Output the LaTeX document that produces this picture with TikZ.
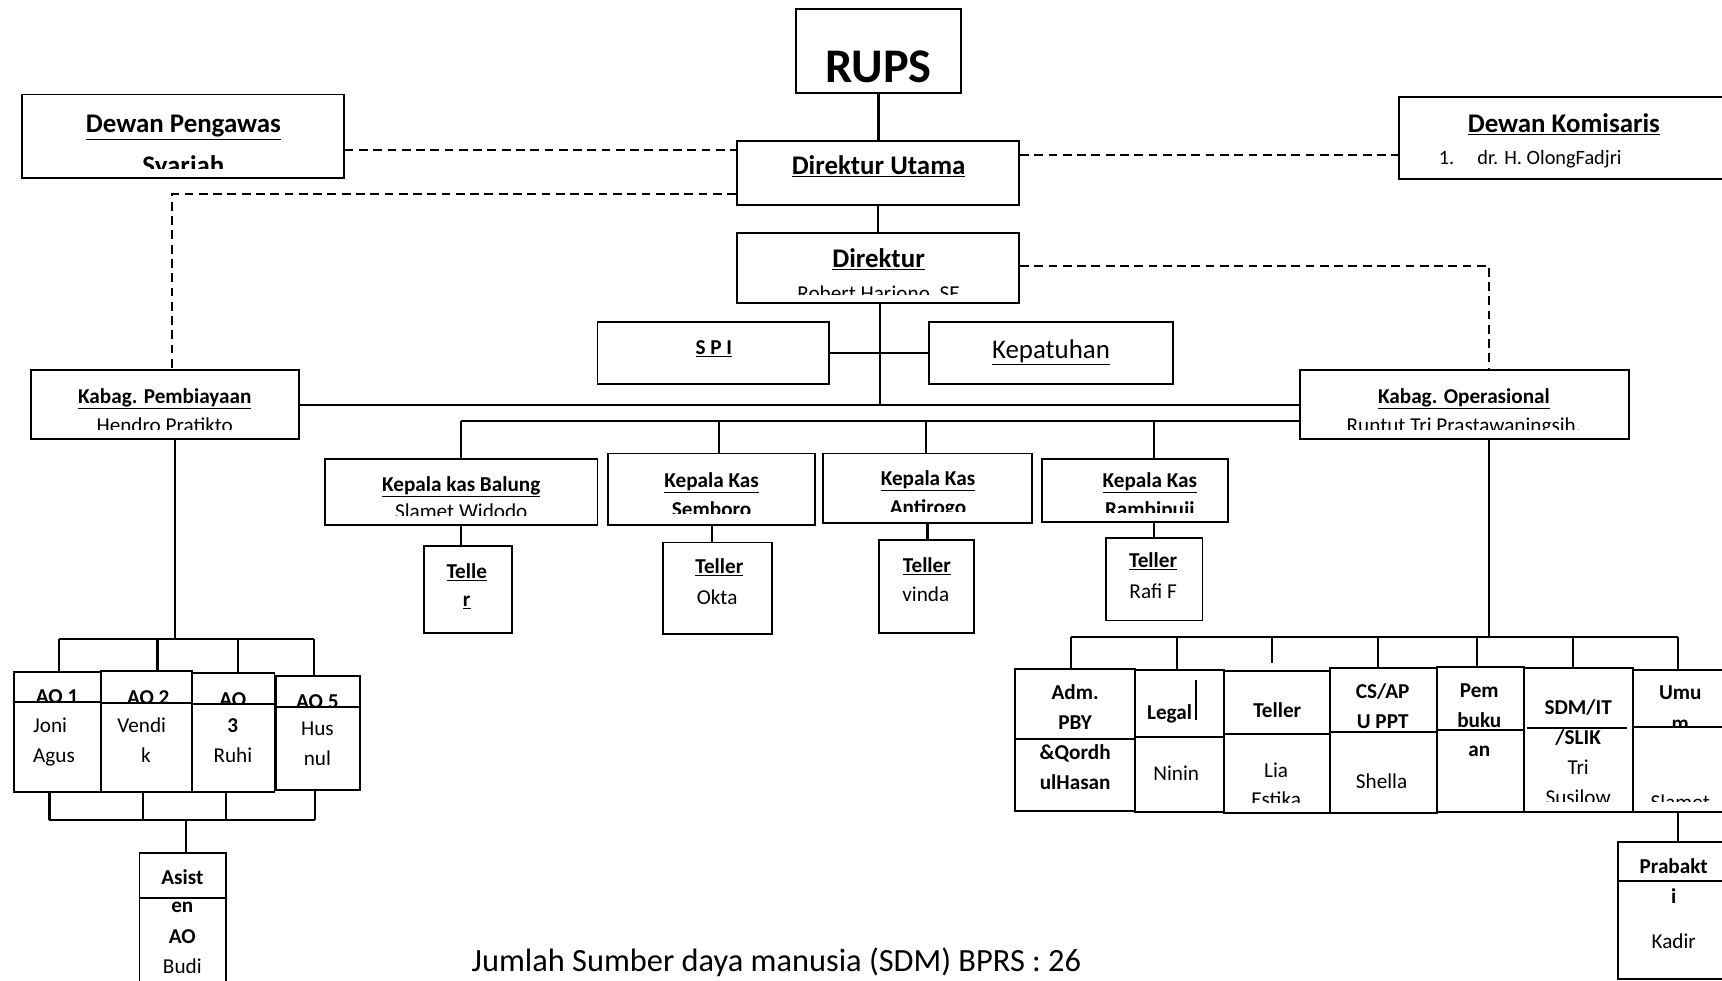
\documentclass[tikz,border=0pt]{standalone}
\usepackage{fontspec}
\setmainfont{Carlito}
\usetikzlibrary{fit}
\begin{document}
\begin{tikzpicture}[x=1pt,y=-1pt,
  box/.style={draw, fill=white, line width=1.7pt, inner sep=0pt, rectangle},
  conn/.style={line width=2pt},
  dl/.style={line width=1.8pt, dash pattern=on 8pt off 5pt},
  dv/.style={line width=1.8pt},
  tb/.style={font=\fontsize{24.5}{28}\selectfont\bfseries, anchor=base, inner sep=0pt},
  tr/.style={font=\fontsize{24.5}{28}\selectfont, anchor=base, inner sep=0pt},
  sb/.style={font=\fontsize{19.3}{22}\selectfont\bfseries, anchor=base, inner sep=0pt},
  sr/.style={font=\fontsize{19.3}{22}\selectfont, anchor=base, inner sep=0pt},
]
\useasboundingbox (0,0) rectangle (1568,893);

% ---------- coordinates ----------
\coordinate (d1) at (0,137);
\coordinate (d2) at (0,141);
\coordinate (d3) at (157,177);
\coordinate (d4) at (1356,242);
\coordinate (dj) at (801,368.5);
\coordinate (bL) at (420,383);
\coordinate (b2) at (655,383);
\coordinate (b3) at (843,383);
\coordinate (b4) at (1051,383);
\coordinate (pv) at (159,582);
\coordinate (ah1) at (54,582);
\coordinate (ah2) at (286,582);
\coordinate (ah3) at (143.5,582);
\coordinate (ah4) at (217,582);
\coordinate (bh1) at (45,747);
\coordinate (bh2) at (287,747);
\coordinate (bh3) at (130,747);
\coordinate (bh4) at (206,747);
\coordinate (bh5) at (169,747);
\coordinate (ov) at (1356,580);
\coordinate (rh1) at (975,580);
\coordinate (rh2) at (1528,580);
\coordinate (rv2) at (1072,580);
\coordinate (rv3) at (1158,580);
\coordinate (rv3e) at (1158,604);
\coordinate (rv4) at (1255,580);
\coordinate (rv5) at (1345,580);
\coordinate (rv6) at (1432,580);
\coordinate (lb) at (1089,619);
\coordinate (lbe) at (1089,656);

% ---------- boxes ----------
\node[box, fit={(725,8)(875,85)}] (rups) {};
\node[box, fit={(671,128)(928,187)}] (du) {};
\node[box, fit={(671,212)(928,276)}] (dir) {};
\node[box, fit={(544,293)(755,350)}] (spi) {};
\node[box, fit={(846,293)(1068,350)}] (kep) {};
\node[box, fit={(20,86)(313,162)}] (dp) {};
\node[box, fit={(1274,88)(1620,163)}] (dk) {};
\node[box, fit={(28,337)(272,400)}] (kp) {};
\node[box, fit={(1184,337)(1483,400)}] (ko) {};
\node[box, fit={(296,418)(544,478)}] (kb1) {};
\node[box, fit={(554,413)(742,478)}] (kb2) {};
\node[box, fit={(749,413)(940,476)}] (kb3) {};
\node[box, fit={(949,418)(1118,475)}] (kb4) {};
\node[box, fit={(386,497)(466,576)}] (t1) {};
\node[box, fit={(604,494)(703,577)}] (t2) {};
\node[box, fit={(800,492)(887,576)}] (t3) {};
\node[box, fit={(1007,490)(1095,565)}] (t4) {};
\node[box, fit={(13,612)(92,721)}] (ao1) {};
\node[box, fit={(92,611)(175,721)}] (ao2) {};
\node[box, fit={(175,613)(250,721)}] (ao3) {};
\node[box, fit={(251,615.5)(328,719)}] (ao5) {};
\node[box, fit={(127,777)(206,940)}] (asis) {};
\node[box, fit={(924,609)(1033.5,738.5)}] (adm) {};
\node[box, fit={(1033.5,610)(1114.5,739)}] (leg) {};
\node[box, fit={(1114.5,611)(1211,740)}] (tel) {};
\node[box, fit={(1211,608)(1308.5,740)}] (cs) {};
\node[box, fit={(1308.5,607.5)(1388,739.5)}] (pem) {};
\node[box, fit={(1388,608.5)(1487,739.5)}] (sdm) {};
\node[box, fit={(1487,610)(1620,739.5)}] (umu) {};
\node[box, fit={(1473.5,767)(1620,891.5)}] (prab) {};

% ---------- solid connectors ----------
\draw[conn] (rups.south) -- (rups.south |- du.north);
\draw[conn] (du.south) -- (dir.north);
\draw[conn] (dj |- dir.south) -- (dj);
\draw[conn] (spi.east) -- (kep.west);
\draw[conn] (kp.east) -- (ko.west);
\draw[conn] (bL) -- (bL -| ko.west);
\draw[conn] (bL) -- (bL |- kb1.north);
\draw[conn] (b2) -- (b2 |- kb2.north);
\draw[conn] (b3) -- (b3 |- kb3.north);
\draw[conn] (b4) -- (b4 |- kb4.north);
\draw[conn] (kb1.south) -- (kb1.south |- t1.north);
\draw[conn] (kb2.south) -- (kb2.south |- t2.north);
\draw[conn] (kb3.south) -- (kb3.south |- t3.north);
\draw[conn] (t4.north |- kb4.south) -- (t4.north);
% left AO group
\draw[conn] (pv |- kp.south) -- (pv);
\draw[conn] (ah1) -- (ah2);
\draw[conn] (ah1) -- (ah1 |- ao1.north);
\draw[conn] (ah3) -- (ah3 |- ao2.north);
\draw[conn] (ah4) -- (ah4 |- ao3.north);
\draw[conn] (ah2) -- (ah2 |- ao5.north);
\draw[conn] (bh1) -- (bh2);
\draw[conn] (bh1 |- ao1.south) -- (bh1);
\draw[conn] (bh3 |- ao2.south) -- (bh3);
\draw[conn] (bh4 |- ao3.south) -- (bh4);
\draw[conn] (bh2 |- ao5.south) -- (bh2);
\draw[conn] (bh5) -- (bh5 |- asis.north);
% right group
\draw[conn] (ov |- ko.south) -- (ov);
\draw[conn] (rh1) -- (rh2);
\draw[conn] (rh1) -- (rh1 |- adm.north);
\draw[conn] (rv2) -- (rv2 |- leg.north);
\draw[conn] (rv3) -- (rv3e);
\draw[conn] (rv4) -- (rv4 |- cs.north);
\draw[conn] (rv5) -- (rv5 |- pem.north);
\draw[conn] (rv6) -- (rv6 |- sdm.north);
\draw[conn] (rh2) -- (rh2 |- umu.north);
\draw[conn] (rh2 |- umu.south) -- (rh2 |- prab.north);
\draw[line width=1.6pt] (lb) -- (lbe);

% ---------- dashed connectors ----------
\draw[dl] (dp.east |- d1) -- (du.west |- d1);
\draw[dl] (du.east |- d2) -- (dk.west |- d2);
\draw[dl] (du.west |- d3) -- (d3) -- (d3 |- kp.north);
\draw[dl] (dir.east |- d4) -- (d4) -- (d4 |- ko.north);

% ---------- dividers ----------
\draw[dv] (ao1.west |- 0,639) -- (ao1.east |- 0,639);
\draw[dv] (ao2.west |- 0,640) -- (ao2.east |- 0,640);
\draw[dv] (ao3.west |- 0,641) -- (ao3.east |- 0,641);
\draw[dv] (ao5.west |- 0,643.5) -- (ao5.east |- 0,643.5);
\draw[dv] (asis.west |- 0,818) -- (asis.east |- 0,818);
\draw[dv] (adm.west |- 0,673) -- (adm.east |- 0,673);
\draw[dv] (leg.west |- 0,671) -- (leg.east |- 0,671);
\draw[dv] (tel.west |- 0,668.5) -- (tel.east |- 0,668.5);
\draw[dv] (cs.west |- 0,666.5) -- (cs.east |- 0,666.5);
\draw[dv] (pem.west |- 0,665) -- (pem.east |- 0,665);
\draw[dv] (1390.5,663) -- (1481.5,663);
\draw[dv] (umu.west |- 0,662) -- (umu.east |- 0,662);
\draw[dv] (prab.west |- 0,802) -- (prab.east |- 0,802);

% ---------- texts ----------
\node[font=\fontsize{44}{48}\selectfont\bfseries, anchor=base, inner sep=0pt] (rupst) at (800,75) {RUPS};
\node[tb] (dut) at (800,159) {\underline{Direktur Utama}};
\node[tb] (dirt) at (800,244) {\underline{Direktur}};
\begin{scope}\clip (671,212) rectangle (928,268.5);
\node[sr] (dirn) at (800,273.5) {Robert Harjono, SE};\end{scope}
\node[sb] (spit) at (650,323) {\underline{S P I}};
\node[tr] (kept) at (957,326) {\underline{Kepatuhan}};
\node[tb] (dpt) at (167,121) {\underline{Dewan Pengawas}};
\begin{scope}\clip (20,86) rectangle (313,153);
\node[tb] (dpn) at (167,159) {Syariah};\end{scope}
\node[tb] (dkt) at (1424,121) {\underline{Dewan Komisaris}};
\node[sr, anchor=base west, font=\fontsize{18.5}{22}\selectfont] (dk1) at (1310,150) {1.};
\node[sr, anchor=base west, font=\fontsize{18.5}{22}\selectfont] (dkn) at (1345,150) {dr. H. OlongFadjri};
\node[sb] (kpt) at (150,367) {\underline{Kabag. Pembiayaan}};
\begin{scope}\clip (28,337) rectangle (272,391.5);
\node[sr] (kpn) at (150,393.5) {Hendro Pratikto};\end{scope}
\node[sb] (kot) at (1333,367) {\underline{Kabag. Operasional}};
\begin{scope}\clip (1184,337) rectangle (1483,391.5);
\node[sr] (kon) at (1333,393.5) {Runtut Tri Prastawaningsih,};\end{scope}
% kepala kas
\node[sb] (kb1t) at (420,447.5) {\underline{Kepala kas Balung}};
\begin{scope}\clip (296,418) rectangle (544,469.5);
\node[sr] (kb1n) at (420,472.5) {Slamet Widodo};\end{scope}
\node[sb] (kb2t) at (648,444) {\underline{Kepala Kas}};
\begin{scope}\clip (554,413) rectangle (742,468);
\node[sb] (kb2n) at (648,470.5) {Semboro};\end{scope}
\node[sb] (kb3t) at (845,442) {\underline{Kepala Kas}};
\begin{scope}\clip (749,413) rectangle (940,466);
\node[sb] (kb3n) at (845,468.5) {Antirogo};\end{scope}
\node[sb] (kb4t) at (1047,444) {\underline{Kepala Kas}};
\begin{scope}\clip (949,418) rectangle (1118,467);
\node[sb] (kb4n) at (1047,470.5) {Rambipuji};\end{scope}
% tellers
\node[sb] (t1a) at (425,526.5) {\underline{Telle}};
\node[sb] (t1b) at (425,552) {\underline{r}};
\node[sb] (t2a) at (655,522) {\underline{Teller}};
\node[sr] (t2b) at (653,550) {Okta};
\node[sb] (t3a) at (844,521) {\underline{Teller}};
\node[sr] (t3b) at (843,548) {vinda};
\node[sb] (t4a) at (1050,517) {\underline{Teller}};
\node[sr] (t4b) at (1050,545) {Rafi F};
% AO
\begin{scope}\clip (13,612) rectangle (92,639);
\node[sb] (ao1t) at (52,640.5) {\underline{AO 1}};\end{scope}
\node[sr, anchor=base west] (ao1a) at (30,667) {Joni};
\node[sr, anchor=base west] (ao1b) at (30,694) {Agus};
\begin{scope}\clip (92,611) rectangle (175,640);
\node[sb] (ao2t) at (135,641.5) {\underline{AO 2}};\end{scope}
\node[sr] (ao2a) at (129,667) {Vendi};
\node[sr] (ao2b) at (133,694) {k};
\begin{scope}\clip (175,613) rectangle (250,641);
\node[sb] (ao3t) at (212,643.5) {\underline{AO}};\end{scope}
\node[sb] (ao3a) at (212,667) {3};
\node[sr] (ao3b) at (212,694) {Ruhi};
\begin{scope}\clip (251,615.5) rectangle (328,643.5);
\node[sb] (ao5t) at (289,645.5) {\underline{AO 5}};\end{scope}
\node[sr] (ao5a) at (289,670) {Hus};
\node[sr] (ao5b) at (289,697) {nul};
\node[sb] (as1) at (166,805) {Asist};
\node[sb] (as2) at (166,831) {en};
\node[sb] (as3) at (166,859) {AO};
\node[sr] (as4) at (166,886) {Budi};
% right group
\node[sb] (adm1) at (979,637) {Adm.};
\node[sb] (adm2) at (979,664) {PBY};
\node[sb] (adm3) at (979,692) {\&Qordh};
\node[sb] (adm4) at (979,719) {ulHasan};
\node[sb] (leg1) at (1065,655) {Legal};
\node[sr] (leg2) at (1071,711) {Ninin};
\node[sb] (tel1) at (1163,653) {Teller};
\node[sr] (tel2) at (1162,708) {Lia};
\begin{scope}\clip (1114.5,611) rectangle (1211,731);
\node[sr] (tel3) at (1162,734.5) {Estika};\end{scope}
\node[sb] (cs1) at (1259,636) {CS/AP};
\node[sb] (cs2) at (1259,663) {U PPT};
\node[sr] (cs3) at (1258,718) {Shella};
\node[sb] (pem1) at (1347,635) {Pem};
\node[sb] (pem2) at (1347,662) {buku};
\node[sb] (pem3) at (1347,689) {an};
\node[sb] (sdm1) at (1437,651) {SDM/IT};
\node[sb] (sdm2) at (1437,678) {/SLIK};
\node[sr] (sdm3) at (1437,705) {Tri};
\begin{scope}\clip (1388,608.5) rectangle (1487,730);
\node[sr] (sdm4) at (1437,733) {Susilow};\end{scope}
\node[sb] (umu1) at (1530,637) {Umu};
\begin{scope}\clip (1487,610) rectangle (1620,662);
\node[sb] (umu2) at (1530,665) {m};\end{scope}
\begin{scope}\clip (1487,610) rectangle (1620,730);
\node[sr] (umu3) at (1530,737) {Slamet};\end{scope}
\node[sb] (prab1) at (1524,795) {Prabakt};
\node[sb] (prab2) at (1524,823) {i};
\node[sr] (prab3) at (1524,864) {Kadir};
% footer
\node[font=\fontsize{29.5}{32}\selectfont, anchor=base, inner sep=0pt] (total) at (707,885) {Jumlah Sumber daya manusia (SDM) BPRS : 26};
\end{tikzpicture}
\end{document}
